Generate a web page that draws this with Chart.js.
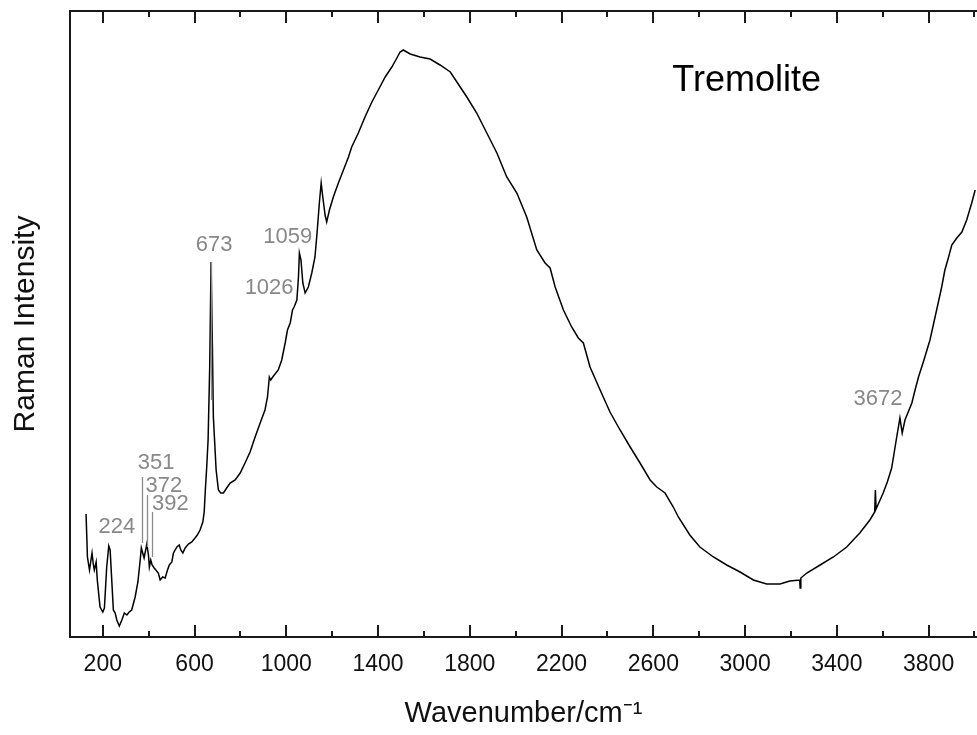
<!DOCTYPE html>
<html>
<head>
<meta charset="utf-8">
<script src="https://cdn.jsdelivr.net/npm/chart.js@4.4.1/dist/chart.umd.min.js"></script>
<style>
html,body{margin:0;padding:0;background:#fff;overflow:hidden;}
#wrap{width:977px;height:735px;position:relative;}
</style>
</head>
<body>
<div id="wrap"><canvas id="c" width="977" height="735"></canvas></div>
<script>
// Wavenumber (cm-1) and Raman intensity (arbitrary units)
const wavenumbers = [127,133,142,153,159,163,171,176,188,200,207,217,226,232,239,246,254,261,272,283,294,305,315,326,341,353,363,368,374,380,392,399,403,409,415,424,442,450,461,472,482,490,501,508,523,533,540,549,559,573,588,602,612,624,636,642,647,653,659,666,672,678,682,694,704,714,726,740,755,777,799,820,842,864,886,907,918,926,932,944,965,980,995,1005,1017,1027,1034,1046,1053,1057,1064,1072,1082,1096,1111,1125,1135,1144,1152,1159,1169,1176,1188,1205,1227,1249,1271,1285,1314,1343,1373,1401,1431,1460,1482,1496,1510,1540,1583,1627,1670,1715,1758,1787,1830,1874,1918,1961,2005,
  2048,2092,2128,2150,2172,2208,2244,2273,2295,2324,2368,2411,2455,2499,2542,2586,2615,2651,2687,2709,2759,2803,2862,2920,2978,3036,3094,3152,3195,3238,3240,3243,3269,3327,3385,3443,3500,3544,3565,3568,3571,3602,3620,3639,3661,3675,3685,3697,3727,3741,3756,3777,3806,3835,3857,3871,3886,3901,3923,3945,3966,3988,4003];
const intensity = [123,80,67,84,72,67,75,57,30,25,29,70,91,87,57,27,24,17,11,17,24,22,25,27,40,55,77,89,84,79,93,82,70,77,72,69,64,57,60,59,67,72,75,84,90,92,87,84,89,93,95,99,102,107,115,125,147,170,197,270,375,287,220,167,147,144,144,149,154,157,164,174,185,200,214,227,240,260,257,261,267,277,294,307,314,327,330,337,360,384,377,354,344,350,364,380,407,434,454,440,422,415,427,440,454,467,480,490,504,520,535,547,560,570,579,585,587,583,580,578,572,565,550,540,524,504,484,460,444,
  420,387,374,369,350,327,310,299,294,270,247,225,207,190,174,157,150,144,130,120,102,90,80,72,65,57,53,53,56,57,49,59,64,72,80,90,104,117,125,147,128,144,155,169,200,219,204,217,234,247,260,275,297,327,350,367,379,392,399,405,417,434,447];

// Axis ticks
const majorTicks = [200,600,1000,1400,1800,2200,2600,3000,3400,3800];
const minorTicks = [400,800,1200,1600,2000,2400,2800,3200,3600,4000];

// Peak annotations
const peakLabels = ['224','351','372','392','673','1026','1059','3672'];
const peakLabelX = [261,432,466,495,685,925,1006,3579];
const peakLabelY = [110,174,151,133,392,349,400,238];
const markerX = [371,392,416,672];
const markerTop = [160,142,125,375];
const markerBottom = [94,90,80,237];
const sampleName = 'Tremolite';
const sampleX = 3007;
const sampleY = 556;

const FONT = '"Liberation Sans", Arial, sans-serif';

const points = wavenumbers.map((w, i) => ({x: w, y: intensity[i]}));

const framePlugin = {
  id: 'framePlugin',
  afterDatasetsDraw(chart) {
    const {ctx, chartArea, scales} = chart;
    const {left, right, top, bottom} = chartArea;
    const x = scales.x, y = scales.y;
    ctx.save();
    ctx.strokeStyle = '#8a8a8a';
    ctx.lineWidth = 1.3;
    markerX.forEach((m, i) => {
      const px = Math.round(x.getPixelForValue(m)) + 0.5;
      ctx.beginPath();
      ctx.moveTo(px, y.getPixelForValue(markerTop[i]));
      ctx.lineTo(px, y.getPixelForValue(markerBottom[i]));
      ctx.stroke();
    });
    ctx.fillStyle = '#888888';
    ctx.font = '22px ' + FONT;
    ctx.textAlign = 'center';
    ctx.textBaseline = 'middle';
    peakLabels.forEach((t, i) => {
      ctx.fillText(t, x.getPixelForValue(peakLabelX[i]), y.getPixelForValue(peakLabelY[i]));
    });
    ctx.fillStyle = '#000';
    ctx.font = '36px ' + FONT;
    ctx.fillText(sampleName, x.getPixelForValue(sampleX), y.getPixelForValue(sampleY));
    ctx.strokeStyle = '#1a1a1a';
    ctx.lineWidth = 2;
    ctx.beginPath();
    ctx.moveTo(right + 2, top);
    ctx.lineTo(left, top);
    ctx.lineTo(left, bottom);
    ctx.lineTo(right + 2, bottom);
    ctx.stroke();
    const drawTick = (v, len) => {
      const px = Math.round(x.getPixelForValue(v));
      ctx.beginPath();
      ctx.moveTo(px, bottom);
      ctx.lineTo(px, bottom - len);
      ctx.moveTo(px, top);
      ctx.lineTo(px, top + len);
      ctx.stroke();
    };
    majorTicks.forEach(v => drawTick(v, 12));
    minorTicks.forEach(v => drawTick(v, 6));
    ctx.restore();
  }
};

new Chart(document.getElementById('c'), {
  type: 'line',
  data: {
    datasets: [{
      data: points,
      borderColor: '#000',
      borderWidth: 1.5,
      pointRadius: 0,
      tension: 0,
      fill: false
    }]
  },
  options: {
    responsive: false,
    animation: false,
    layout: {padding: {top: 11, right: 0, left: 0, bottom: 0}},
    plugins: {legend: {display: false}, tooltip: {enabled: false}},
    scales: {
      x: {
        type: 'linear',
        min: 57,
        max: 4011,
        grid: {display: false},
        border: {display: false},
        afterBuildTicks: s => { s.ticks = majorTicks.map(v => ({value: v})); },
        afterFit: s => { s.height = 98; },
        ticks: {
          autoSkip: false, maxRotation: 0, padding: 6,
          color: '#111',
          font: {family: FONT, size: 23},
          callback: v => String(v)
        },
        title: {
          display: true,
          text: 'Wavenumber/cm\u207B\u00B9',
          color: '#111',
          font: {family: FONT, size: 29},
          padding: 4
        }
      },
      y: {
        min: 0,
        max: 626,
        grid: {display: false},
        border: {display: false},
        ticks: {display: false},
        afterFit: s => { s.width = 70; },
        title: {
          display: true,
          text: 'Raman Intensity',
          color: '#111',
          font: {family: FONT, size: 30},
          padding: 8
        }
      }
    }
  },
  plugins: [framePlugin]
});
</script>
</body>
</html>
